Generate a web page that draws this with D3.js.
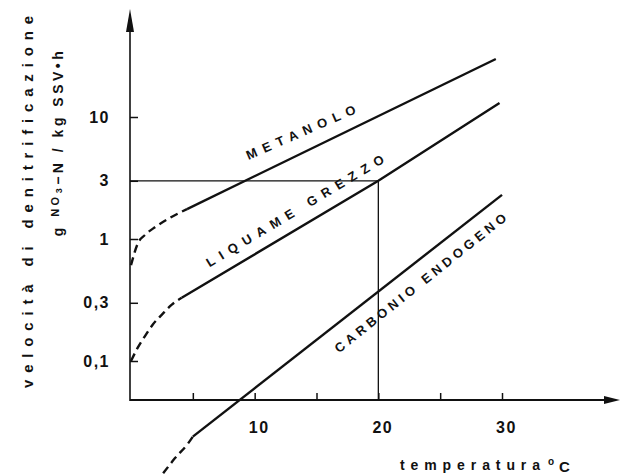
<!DOCTYPE html>
<html>
<head>
<meta charset="utf-8">
<script src="https://cdn.jsdelivr.net/npm/d3@7"></script>
<style>
  body { margin: 0; background: #fff; }
  text { font-family: "Liberation Sans", Arial, sans-serif; font-weight: bold; fill: #111; }
</style>
</head>
<body>
<div id="chart"></div>
<script>
// axis ticks
var tempTicks = [5, 10, 15, 20, 25, 30];
var tempLabels = ["", "10", "", "20", "", "30"];
var rateTicks = [0.1, 0.3, 1, 3, 10];
var rateLabels = ["0,1", "0,3", "1", "3", "10"];

// metanolo: dashed start + solid part
var metDashT = [0, 0.57, 1.13, 1.94, 3.15, 4.53];
var metDashV = [0.61, 0.93, 1.08, 1.25, 1.49, 1.76];
var metT = [4.53, 29.5];
var metV = [1.76, 29.9];

// liquame grezzo
var liqDashT = [0, 0.57, 1.13, 1.78, 2.5, 3.3, 4.1];
var liqDashV = [0.1, 0.13, 0.16, 0.2, 0.24, 0.29, 0.33];
var liqT = [4.1, 20, 29.8];
var liqV = [0.33, 3.0, 13.0];

// carbonio endogeno
var carDashT = [2.6, 3.56, 4.6, 5.0];
var carDashV = [0.012, 0.016, 0.021, 0.024];
var carT = [5.0, 30];
var carV = [0.024, 2.3];

// reading example at 20 C
var refT = 20, refV = 3;

var width = 620, height = 476;
var axisY = 400, axisX = 130;

var svg = d3.select("#chart").append("svg")
    .attr("width", width)
    .attr("height", height);

var xScale = d3.scaleLinear().domain([0, 30]).range([131, 502]);
var yScale = d3.scaleLog().domain([0.1, 10]).range([361, 117]);

function pts(ts, vs) {
    return ts.map(function(t, i){ return [xScale(t), yScale(vs[i])]; });
}
var curved = d3.line().curve(d3.curveMonotoneX);
var straight = d3.line();

// axes
var yAxis = d3.axisLeft(yScale)
    .tickValues(rateTicks)
    .tickSize(-8)
    .tickPadding(20)
    .tickFormat(function(d, i){ return rateLabels[i]; });
var gy = svg.append("g")
    .attr("transform", "translate(" + axisX + ",0)")
    .call(yAxis);
gy.select(".domain").remove();
gy.selectAll("line").attr("stroke", "#111").attr("stroke-width", 1.5);
gy.selectAll("text")
    .style("font-size", "16px")
    .style("letter-spacing", "1.5px")
    .attr("fill", "#111");

var xAxis = d3.axisBottom(xScale)
    .tickValues(tempTicks)
    .tickSize(-7)
    .tickPadding(22)
    .tickFormat(function(d, i){ return tempLabels[i]; });
var gx = svg.append("g")
    .attr("transform", "translate(0," + axisY + ")")
    .call(xAxis);
gx.select(".domain").remove();
gx.selectAll("line").attr("stroke", "#111").attr("stroke-width", 1.5);
gx.selectAll("text")
    .style("font-size", "16px")
    .style("letter-spacing", "1.5px")
    .attr("dx", 4)
    .attr("fill", "#111");

// axis lines with arrows
svg.append("line")
    .attr("x1", axisX).attr("y1", axisY + 1)
    .attr("x2", axisX).attr("y2", 28)
    .attr("stroke", "#111").attr("stroke-width", 1.6);
svg.append("path")
    .attr("d", "M" + (axisX - 4) + ",32 L" + axisX + ",9 L" + (axisX + 4) + ",32 Z")
    .attr("fill", "#111");
svg.append("line")
    .attr("x1", axisX).attr("y1", axisY)
    .attr("x2", 606).attr("y2", axisY)
    .attr("stroke", "#111").attr("stroke-width", 1.8);
svg.append("path")
    .attr("d", "M604," + (axisY - 4) + " L620," + axisY + " L604," + (axisY + 4) + " Z")
    .attr("fill", "#111");

// reference lines
svg.append("path")
    .attr("d", "M" + axisX + "," + yScale(refV) + " H" + xScale(refT) + " V" + axisY)
    .attr("fill", "none")
    .attr("stroke", "#111")
    .attr("stroke-width", 1.3);

// curves
var series = [
    [metDashT, metDashV, true], [metT, metV, false],
    [liqDashT, liqDashV, true], [liqT, liqV, false],
    [carDashT, carDashV, true], [carT, carV, false]
];
series.forEach(function(s){
    var gen = s[2] ? curved : straight;
    svg.append("path")
        .attr("d", gen(pts(s[0], s[1])))
        .attr("fill", "none")
        .attr("stroke", "#111")
        .attr("stroke-width", 2.4)
        .attr("stroke-dasharray", s[2] ? "8,5" : null);
});

// curve labels
var curveLabels = [
    {text: "METANOLO", t: 13.74, v: 7.5, angle: -23.5, len: 118},
    {text: "LIQUAME GREZZO", t: 13.26, v: 1.7, angle: -31, len: 205},
    {text: "CARBONIO ENDOGENO", t: 23.4, v: 0.436, angle: -38.5, len: 215}
];
curveLabels.forEach(function(d){
    svg.append("text")
        .attr("transform", "translate(" + xScale(d.t) + "," + yScale(d.v) + ") rotate(" + d.angle + ")")
        .attr("text-anchor", "middle")
        .attr("dominant-baseline", "central")
        .attr("textLength", d.len)
        .attr("lengthAdjust", "spacing")
        .style("font-size", "13px")
        .text(d.text);
});

// axis titles
svg.append("text")
    .attr("transform", "translate(27,202) rotate(-90)")
    .attr("text-anchor", "middle")
    .attr("dominant-baseline", "central")
    .attr("textLength", 372)
    .attr("lengthAdjust", "spacing")
    .style("font-size", "15px")
    .text("velocità di denitrificazione");

var unit = svg.append("text")
    .attr("transform", "translate(58,142) rotate(-90)")
    .attr("text-anchor", "middle")
    .attr("dominant-baseline", "central")
    .style("font-size", "14px")
    .style("letter-spacing", "3.5px");
unit.append("tspan").text("g ");
unit.append("tspan").attr("dy", -3).style("font-size", "11px").text("NO");
unit.append("tspan").attr("dy", 4).style("font-size", "9px").text("3");
unit.append("tspan").attr("dy", -1).text("−N / kg SSV•h");

svg.append("text")
    .attr("x", 400).attr("y", 470)
    .attr("textLength", 140)
    .attr("lengthAdjust", "spacing")
    .style("font-size", "14px")
    .text("temperatura");
svg.append("text")
    .attr("x", 548).attr("y", 465)
    .style("font-size", "10px")
    .text("o");
svg.append("text")
    .attr("x", 559).attr("y", 472)
    .style("font-size", "15px")
    .text("C");
</script>
</body>
</html>
